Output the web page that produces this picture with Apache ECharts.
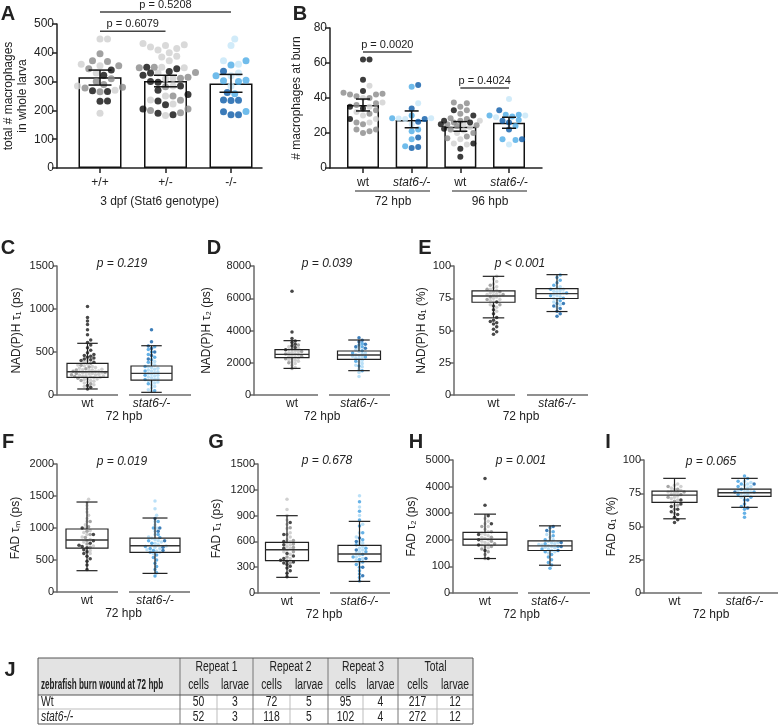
<!DOCTYPE html>
<html>
<head>
<meta charset="utf-8">
<script src="https://cdn.jsdelivr.net/npm/echarts@6/dist/echarts.min.js"></script>
<style>
  html, body { margin: 0; padding: 0; background: #fff; }
  #main { width: 780px; height: 725px; }
</style>
</head>
<body>
<div id="main"></div>
<script>
// ---- A: total macrophages per larva (3 dpf) ----
const aCats = ['+/+', '+/-', '-/-'];
const aMean = [315, 302, 293];
const aCiLow = [288, 282, 263];
const aCiHigh = [340, 322, 325];
const aLight = [
  [448, 448, 360, 355, 330, 285, 270, 190],
  [432, 428, 425, 420, 415, 410, 400, 388, 385, 372, 350, 348, 330, 312, 310, 285, 250, 236, 222, 182],
  [448, 425, 372, 360, 330, 320, 285]
];
const aMid = [
  [397, 372, 370, 355, 345, 310, 300, 290, 280, 278, 265],
  [350, 348, 332, 315, 312, 282, 250, 235, 205, 200, 192],
  [372, 358, 320, 305, 303, 300, 258, 196]
];
const aDark = [
  [340, 322, 268, 266, 233, 232],
  [350, 345, 335, 330, 322, 300, 298, 285, 270, 255, 233, 220, 205, 190, 185],
  [336, 262, 236, 235, 234, 195, 185, 185]
];

// ---- B: macrophages at burn ----
const bCats = ['wt', 'stat6-/-', 'wt', 'stat6-/-'];
const bMean = [36, 27.4, 23.6, 25.9];
const bCiLow = [32.6, 23, 21, 22.7];
const bCiHigh = [39.4, 32.6, 26.5, 29];
const bLight = [
  [47, 40, 37.5, 35, 32, 30, 28, 26],
  [37, 28.5, 28, 28.3, 25],
  [27, 25, 23.5, 21.5, 20, 16.5, 14, 13.5],
  [39.5, 30, 29, 13.5]
];
const bMid = [
  [43, 42.5, 42, 42, 41, 40, 37, 36, 33, 31, 26, 25, 22, 22, 21, 20],
  [46.5, 30, 28.5, 22, 21, 16.5, 12.5],
  [37.5, 37, 35, 33, 31, 28.5, 28, 27, 26, 25, 24.5, 24, 22, 20, 18, 17],
  [30.5, 30.5, 30, 29.5, 27.5, 24, 16.5, 16]
];
const bDark = [
  [62, 62, 50.5, 44, 35, 34, 28],
  [47.5, 34, 28, 26.5, 17.5, 12, 11.5],
  [33, 30, 27, 26, 25, 22.5, 14, 11, 6.5],
  [33, 27, 26, 22, 16.5]
];

// ---- C..I: FLIM box plots, wt vs stat6-/- (72 hpb) ----
const boxCats = ['wt', 'stat6-/-'];
// [whisker low, Q1, median, Q3, whisker high]
const cBox = [[70, 206, 271, 368, 601], [31, 174, 252, 337, 573]];
const cLight = [
  [100, 120, 140, 150, 160, 170, 180, 185, 190, 200, 205, 210, 215, 220, 225, 230, 235, 240, 245, 250, 255, 260, 265, 270, 275, 280, 285, 290, 295, 300, 310, 320, 330, 340, 350, 360, 380, 400],
  [40, 60, 80, 100, 120, 140, 150, 160, 170, 180, 190, 200, 210, 220, 230, 240, 250, 260, 270, 280, 290, 300, 310, 320, 330, 350, 370, 390]
];
const cMid = [
  [130, 170, 195, 215, 235, 250, 262, 275, 290, 305, 325, 345, 370],
  [50, 130, 180, 230, 280, 330, 380, 410, 440, 470, 500, 530, 560]
];
const cDark = [
  [70, 90, 110, 380, 400, 410, 420, 430, 440, 450, 460, 470, 490, 520, 550, 580, 610, 640, 700, 760, 820, 860, 900, 1030],
  [420, 460, 500, 540, 570, 620, 760]
];

const dBox = [[1650, 2315, 2520, 2810, 3370], [1510, 2210, 2480, 2730, 3410]];
const dLight = [
  [1700, 1850, 1950, 2050, 2100, 2150, 2200, 2250, 2300, 2350, 2400, 2450, 2500, 2550, 2600, 2650, 2700, 2750, 2800, 2900, 3000],
  [1150, 1400, 1600, 1750, 1850, 1950, 2050, 2150, 2250, 2300, 2350, 2400, 2450, 2500, 2550, 2600, 2700, 2800, 2900]
];
const dMid = [
  [1650, 2000, 2250, 2400, 2550, 2700, 2850, 3100],
  [1500, 1800, 2100, 2350, 2600, 2750, 3000, 3100, 3200]
];
const dDark = [
  [2800, 2950, 3050, 3150, 3250, 3350, 3500, 3900, 6430],
  [2900, 3000, 3150, 3300, 3400, 3550]
];

const eBox = [[59.8, 71.9, 76.8, 80.7, 92], [64.7, 74.8, 78.6, 82.5, 93.3]];
const eLight = [
  [65, 68, 70, 72, 73, 74, 75, 76, 77, 77.5, 78, 78.5, 79, 80, 81, 82, 83, 84, 86, 88, 90, 92],
  [68, 70, 72, 74, 75, 76, 77, 78, 78.5, 79, 80, 80.5, 81, 82, 83, 84]
];
const eMid = [
  [70, 74, 76, 78, 80, 82, 85],
  [71, 73, 75, 77, 79, 82, 85, 87, 89, 91, 93]
];
const eDark = [
  [47, 49, 51, 53, 55, 56, 57, 58, 60, 63, 66, 69, 72],
  [61, 63, 65, 67, 69, 71]
];

const fBox = [[333, 687, 812, 984, 1406], [291, 619, 723, 843, 1156]];
const fLight = [
  [600, 650, 720, 780, 820, 860, 900, 930, 960, 1000, 1050, 1100, 1150, 1200, 1250, 1300, 1350, 1400, 1450],
  [600, 620, 640, 660, 680, 700, 720, 740, 760, 780, 800, 820, 840, 860, 900, 950, 1000, 1050, 1100, 1200, 1300, 1420]
];
const fMid = [
  [700, 750, 800, 850, 900, 950, 1020, 1100],
  [250, 300, 350, 400, 450, 500, 540, 580, 620, 650, 680, 710, 760, 800, 850, 900, 1000, 1100]
];
const fDark = [
  [350, 420, 480, 520, 560, 600, 630, 660, 690, 710, 730, 760, 800, 900, 1000],
  [650, 700, 800, 950, 1000, 1150]
];

const gBox = [[182, 376, 503, 589, 899], [135, 364, 453, 553, 833]];
const gLight = [
  [400, 450, 480, 500, 520, 540, 560, 580, 600, 620, 650, 700, 750, 800, 850, 900, 970, 1090],
  [350, 380, 400, 420, 440, 460, 480, 500, 520, 540, 560, 580, 600, 650, 700, 800, 900, 1000, 1130]
];
const gMid = [
  [350, 420, 480, 530, 570, 610, 680, 760],
  [140, 180, 220, 260, 300, 330, 360, 390, 420, 450, 480, 520, 560, 620, 700, 780, 850, 950, 1060]
];
const gDark = [
  [190, 230, 260, 290, 310, 330, 350, 360, 370, 380, 400, 430, 460, 520, 560, 600, 680, 820],
  [200, 300, 400, 500, 600, 640]
];

const hBox = [[1296, 1797, 2023, 2276, 2965], [1044, 1597, 1771, 1960, 2525]];
const hLight = [
  [1700, 1750, 1800, 1850, 1900, 1950, 2000, 2050, 2100, 2150, 2200, 2250, 2300, 2400, 2500, 2600, 2700, 2800],
  [1500, 1550, 1600, 1650, 1700, 1720, 1750, 1780, 1800, 1820, 1850, 1880, 1900, 1950, 2000, 2100, 2200, 2300]
];
const hMid = [
  [1300, 1450, 1550, 1650, 1750, 1850, 1950, 2100, 2300, 2500],
  [930, 1050, 1150, 1250, 1350, 1450, 1550, 1650, 1750, 1850, 2000, 2150, 2300, 2450]
];
const hDark = [
  [1300, 1600, 1800, 2000, 2200, 2600, 2900, 3300, 4300],
  [1600, 1750, 1900, 2350, 2500]
];
const hTickLabels = ['0', '100', '2000', '3000', '4000', '5000']; // as printed in the figure

const iBox = [[55.8, 68.1, 73.6, 76.6, 86.2], [64.4, 72.6, 75.4, 78.1, 86.2]];
const iLight = [
  [66, 68, 70, 71, 72, 73, 74, 75, 75.5, 76, 76.5, 77, 78, 79, 80, 81, 82],
  [72, 73, 74, 75, 75.5, 76, 76.5, 77, 78, 79, 80, 81, 82, 83, 84]
];
const iMid = [
  [60, 63, 66, 69, 72, 74, 76, 78, 80],
  [57, 60, 63, 65, 67, 70, 72, 74, 76, 78, 80, 82, 84, 86, 88]
];
const iDark = [
  [53, 55, 57, 59, 61, 63, 65, 67, 70],
  [64, 70, 76, 82]
];

// ---- J: table ----
const jTitle = 'zebrafish burn wound at 72 hpb';
const jGroups = ['Repeat 1', 'Repeat 2', 'Repeat 3', 'Total'];
const jSub = ['cells', 'larvae'];
const jRowNames = ['Wt', 'stat6-/-'];
const jWt = [50, 3, 72, 5, 95, 4, 217, 12];
const jStat6 = [52, 3, 118, 5, 102, 4, 272, 12];

// ---------------------------------------------------------------
const FONT = '"Liberation Sans", Arial, Helvetica, sans-serif';
const INK = '#222';
const WT_AB = ['#cfcfcf', '#8a8a8a', '#0d0d0d'];
const KO_AB = ['#c6e6f8', '#4cabe6', '#0a5aa8'];
const WT_BOX = ['#c4c4c4', '#8f8f8f', '#1a1a1a'];
const KO_BOX = ['#a9d8f5', '#3f9ee0', '#0d5ea8'];

const grid = [], xAxis = [], yAxis = [], series = [];

function addPanel(p) {
  const gi = grid.length;
  const xMin = -(p.c0 - p.left) / p.step;
  const xMax = xMin + p.width / p.step;
  const idx = p.cats.map((c, i) => i);
  grid.push({ left: p.left, top: p.top, width: p.width, height: p.height });
  xAxis.push({
    type: 'value', gridIndex: gi, min: xMin, max: xMax,
    axisLine: { show: !!p.xLine, onZero: false, lineStyle: { color: p.axisColor, width: 1.5 } },
    axisTick: { show: !!p.xLine, customValues: idx, length: 5, lineStyle: { color: p.axisColor, width: 1.5 } },
    axisLabel: {
      customValues: idx, margin: p.labelMargin, fontSize: 12, color: INK, fontFamily: FONT,
      formatter: v => {
        const c = p.cats[Math.round(v)] || '';
        return c.indexOf('stat6') === 0 ? '{i|' + c + '}' : c;
      },
      rich: { i: { fontStyle: 'italic', fontSize: 12, color: INK, fontFamily: FONT } }
    },
    splitLine: { show: false },
    name: p.xName || '', nameLocation: 'middle', nameGap: p.xNameGap || 14,
    nameTextStyle: { fontSize: 12, color: INK, fontFamily: FONT }
  });
  yAxis.push({
    type: 'value', gridIndex: gi, min: 0, max: p.yMax, interval: p.yInt,
    axisLine: { show: true, onZero: false, lineStyle: { color: p.axisColor, width: 1.5 } },
    axisTick: { show: true, length: p.tickLen, lineStyle: { color: p.axisColor, width: 1.5 } },
    axisLabel: {
      fontSize: p.yFont, color: INK, fontFamily: FONT, margin: 3,
      formatter: p.yFormatter || (v => String(v))
    },
    splitLine: { show: false },
    name: p.yName, nameLocation: 'middle', nameGap: p.yNameGap,
    nameTextStyle: { fontSize: 12, color: INK, fontFamily: FONT, lineHeight: 14 }
  });
  return { gi, step: p.step, pxu: p.height / p.yMax };
}

// beeswarm: place sorted points as close to the centre as possible without overlap
function swarm(ys, d, maxHalf) {
  const order = ys.map((y, i) => i).sort((a, b) => ys[a] - ys[b]);
  const cands = [0];
  for (let k = 1; k * d / 2 <= maxHalf; k++) cands.push(k * d / 2, -k * d / 2);
  const placed = [], out = new Array(ys.length);
  order.forEach(i => {
    const y = ys[i];
    const near = placed.filter(q => Math.abs(q.y - y) < d);
    let best = 0, bestScore = -1;
    for (const c of cands) {
      let m = Infinity;
      near.forEach(q => { m = Math.min(m, Math.hypot(q.x - c, q.y - y)); });
      if (m >= d) { best = c; break; }
      if (m > bestScore) { bestScore = m; best = c; }
    }
    placed.push({ x: best, y: y });
    out[i] = best;
  });
  return out;
}

function addDots(ax, shades, palettes, size, gap, halves) {
  const perShade = shades.map(() => []);
  for (let g = 0; g < shades[0].length; g++) {
    const pts = [];
    shades.forEach((arr, s) => arr[g].forEach(v => pts.push({ v, s })));
    const offs = swarm(pts.map(q => q.v * ax.pxu), gap, halves[g]);
    pts.forEach((q, k) => perShade[q.s].push({
      value: [g + offs[k] / ax.step, q.v],
      itemStyle: { color: palettes[g][q.s] }
    }));
  }
  perShade.forEach(data => series.push({
    type: 'scatter', xAxisIndex: ax.gi, yAxisIndex: ax.gi, data,
    symbol: 'circle', symbolSize: size, silent: true, z: 3
  }));
}

function addBarsWithCI(ax, mean, lo, hi, barW, capW) {
  series.push({
    type: 'bar', xAxisIndex: ax.gi, yAxisIndex: ax.gi, barWidth: barW, silent: true, z: 2,
    data: mean.map((v, i) => [i, v]),
    itemStyle: { color: '#fff', borderColor: '#111', borderWidth: 1.5 }
  });
  series.push({
    type: 'custom', xAxisIndex: ax.gi, yAxisIndex: ax.gi, silent: true, z: 5,
    data: mean.map((v, i) => [i, lo[i], hi[i]]),
    encode: { x: 0, y: [1, 2] },
    renderItem: (params, api) => {
      const pl = api.coord([api.value(0), api.value(1)]);
      const ph = api.coord([api.value(0), api.value(2)]);
      const st = { stroke: '#111', lineWidth: 1.5 };
      const h = capW / 2;
      return { type: 'group', children: [
        { type: 'line', shape: { x1: pl[0], y1: pl[1], x2: ph[0], y2: ph[1] }, style: st },
        { type: 'line', shape: { x1: pl[0] - h, y1: pl[1], x2: pl[0] + h, y2: pl[1] }, style: st },
        { type: 'line', shape: { x1: ph[0] - h, y1: ph[1], x2: ph[0] + h, y2: ph[1] }, style: st }
      ] };
    }
  });
}

function addBoxes(ax, box, widths) {
  series.push({
    type: 'custom', xAxisIndex: ax.gi, yAxisIndex: ax.gi, silent: true, z: 5,
    data: box.map((b, i) => [i].concat(b)),
    encode: { x: 0, y: [1, 2, 3, 4, 5] },
    renderItem: (params, api) => {
      const x = api.value(0);
      const p = [1, 2, 3, 4, 5].map(k => api.coord([x, api.value(k)]));
      const w = widths[params.dataIndex];
      const cx = p[0][0], hw = w / 2, cw = w / 4;
      const st = { stroke: '#222', lineWidth: 1.2 };
      return { type: 'group', children: [
        { type: 'line', shape: { x1: cx, y1: p[4][1], x2: cx, y2: p[3][1] }, style: st },
        { type: 'line', shape: { x1: cx, y1: p[1][1], x2: cx, y2: p[0][1] }, style: st },
        { type: 'line', shape: { x1: cx - cw, y1: p[4][1], x2: cx + cw, y2: p[4][1] }, style: st },
        { type: 'line', shape: { x1: cx - cw, y1: p[0][1], x2: cx + cw, y2: p[0][1] }, style: st },
        { type: 'rect', shape: { x: cx - hw, y: p[3][1], width: w, height: p[1][1] - p[3][1] },
          style: { stroke: '#222', lineWidth: 1.2, fill: 'rgba(0,0,0,0)' } },
        { type: 'line', shape: { x1: cx - hw, y1: p[2][1], x2: cx + hw, y2: p[2][1] }, style: { stroke: '#333', lineWidth: 1.4 } }
      ] };
    }
  });
}

// ---- panels A and B ----
const axA = addPanel({
  left: 57, top: 24, width: 205, height: 144, c0: 100, step: 65.5,
  yMax: 500, yInt: 100, cats: aCats, xLine: true, axisColor: '#222', labelMargin: 9,
  xName: '3 dpf (Stat6 genotype)', xNameGap: 28,
  yName: 'total # macrophages\nin whole larva', yNameGap: 24, tickLen: 5, yFont: 12
});
addBarsWithCI(axA, aMean, aCiLow, aCiHigh, 43, 23);
addDots(axA, [aLight, aMid, aDark], [WT_AB, WT_AB, KO_AB], 7, 7.5, [30, 30, 30]);

const axB = addPanel({
  left: 330, top: 28, width: 212, height: 140, c0: 363, step: 48.67,
  yMax: 80, yInt: 20, cats: bCats, xLine: true, axisColor: '#222', labelMargin: 9,
  yName: '# macrophages at burn', yNameGap: 26, tickLen: 5, yFont: 12
});
addBarsWithCI(axB, bMean, bCiLow, bCiHigh, 32, 14);
addDots(axB, [bLight, bMid, bDark], [WT_AB, KO_AB, WT_AB, KO_AB], 6, 6.5, [22, 22, 22, 22]);

// ---- box panels ----
const boxPanels = [
  { left: 57, top: 266, width: 134, height: 129, c0: 87.5, step: 64, yMax: 1500, yInt: 500,
    yName: 'NAD(P)H τ₁ (ps)', yNameGap: 33, box: cBox, dots: [cLight, cMid, cDark], bw: [41, 41],
    segs: [[57, 118], [129, 191]], p: [122, 264, 'p = 0.219'] },
  { left: 254, top: 266, width: 136, height: 129, c0: 292, step: 67, yMax: 8000, yInt: 2000,
    yName: 'NAD(P)H τ₂ (ps)', yNameGap: 40, box: dBox, dots: [dLight, dMid, dDark], bw: [34, 43],
    segs: [[254, 318], [329, 390]], p: [327, 264, 'p = 0.039'] },
  { left: 454, top: 266, width: 134, height: 129, c0: 493.5, step: 63.5, yMax: 100, yInt: 25,
    yName: 'NAD(P)H α₁ (%)', yNameGap: 21, box: eBox, dots: [eLight, eMid, eDark], bw: [43, 42],
    segs: [[454, 515], [527, 588]], p: [520, 264, 'p < 0.001'] },
  { left: 57, top: 464, width: 133, height: 128, c0: 87, step: 68, yMax: 2000, yInt: 500,
    yName: 'FAD τₘ (ps)', yNameGap: 34, box: fBox, dots: [fLight, fMid, fDark], bw: [42, 50],
    segs: [[57, 118], [129, 190]], p: [122, 462, 'p = 0.019'] },
  { left: 258, top: 464, width: 132, height: 129, c0: 287, step: 72.5, yMax: 1500, yInt: 300,
    yName: 'FAD τ₁ (ps)', yNameGap: 34, box: gBox, dots: [gLight, gMid, gDark], bw: [43, 43],
    segs: [[258, 320], [330, 390]], p: [327, 461, 'p = 0.678'] },
  { left: 453, top: 460, width: 137, height: 133, c0: 485, step: 65, yMax: 5000, yInt: 1000,
    yName: 'FAD τ₂ (ps)', yNameGap: 34, box: hBox, dots: [hLight, hMid, hDark], bw: [44, 44],
    segs: [[453, 518], [528, 590]], p: [521, 461, 'p = 0.001'],
    yFormatter: v => hTickLabels[Math.round(v / 1000)] },
  { left: 644, top: 460, width: 134, height: 133, c0: 674.5, step: 70, yMax: 100, yInt: 25,
    yName: 'FAD α₁ (%)', yNameGap: 21, box: iBox, dots: [iLight, iMid, iDark], bw: [45, 53],
    segs: [[644, 702], [718, 778]], p: [711, 462, 'p = 0.065'] }
];

const graphic = [];
const txt = (x, y, text, font, align, sx) => ({
  type: 'text', x, y, silent: true, scaleX: sx || 1,
  style: { text, font, fill: INK, align: align || 'center', verticalAlign: 'middle' }
});
const line = (x1, y1, x2, y2, color, w) => ({
  type: 'line', silent: true, shape: { x1, y1, x2, y2 },
  style: { stroke: color, lineWidth: w || 1 }
});

boxPanels.forEach(bp => {
  const ax = addPanel(Object.assign({
    cats: boxCats, xLine: false, axisColor: '#6a6a6a', labelMargin: 3,
    xName: '72 hpb', xNameGap: 13, tickLen: 4, yFont: 11
  }, bp));
  addDots(ax, bp.dots, [WT_BOX, KO_BOX], 3.5, 3.2, bp.bw.map(w => w / 2 - 2));
  addBoxes(ax, bp.box, bp.bw);
  const yb = bp.top + bp.height;
  bp.segs.forEach(s => graphic.push(line(s[0], yb, s[1], yb, '#6a6a6a', 1.5)));
  graphic.push(txt(bp.p[0], bp.p[1], bp.p[2], 'italic 12px ' + FONT));
});

// panel letters
[['A', 8, 14], ['B', 300, 14], ['C', 8, 248], ['D', 214, 248], ['E', 425, 248],
 ['F', 8, 442], ['G', 216, 442], ['H', 416, 442], ['I', 608, 442], ['J', 10, 670]]
  .forEach(l => graphic.push(txt(l[1], l[2], l[0], 'bold 20px ' + FONT)));

// B group underlines
graphic.push(line(355, 191, 430, 191, '#222', 1.2), line(452, 191, 527, 191, '#222', 1.2));
graphic.push(txt(393, 202, '72 hpb', '12px ' + FONT), txt(490, 202, '96 hpb', '12px ' + FONT));

// J table
const TF = '14px ' + FONT, SX = 0.74;
const tb = { x0: 38, x1: 473, top: 658, head: 695, mid: 709, bottom: 724,
  cols: [180, 253, 328, 398], subs: [217, 290, 363, 437] };
graphic.push({ type: 'rect', silent: true, shape: { x: tb.x0, y: tb.top, width: tb.x1 - tb.x0, height: tb.head - tb.top },
  style: { fill: '#e3e3e3' } });
graphic.push(line(tb.x0, tb.mid, tb.x1, tb.mid, '#bdbdbd', 1));
tb.subs.forEach(x => graphic.push(line(x, tb.head, x, tb.bottom, '#bdbdbd', 1)));
tb.cols.forEach(x => graphic.push(line(x, tb.top, x, tb.bottom, '#777', 1)));
graphic.push(line(tb.x0, tb.head, tb.x1, tb.head, '#555', 1));
graphic.push({ type: 'rect', silent: true, shape: { x: tb.x0, y: tb.top, width: tb.x1 - tb.x0, height: tb.bottom - tb.top },
  style: { fill: 'rgba(0,0,0,0)', stroke: '#555', lineWidth: 1 } });
const edges = tb.cols.concat([tb.x1]);
jGroups.forEach((g, k) => {
  const l = edges[k], r = edges[k + 1], s = tb.subs[k];
  graphic.push(txt((l + r) / 2, 667, g, TF, 'center', SX));
  graphic.push(txt((l + s) / 2, 685, jSub[0], TF, 'center', SX));
  graphic.push(txt((s + r) / 2, 685, jSub[1], TF, 'center', SX));
  [jWt, jStat6].forEach((row, ri) => {
    const y = ri === 0 ? 702 : 717;
    graphic.push(txt((l + s) / 2, y, String(row[2 * k]), TF, 'center', SX));
    graphic.push(txt((s + r) / 2, y, String(row[2 * k + 1]), TF, 'center', SX));
  });
});
graphic.push(txt(41, 685, jTitle, 'bold 14px ' + FONT, 'left', 0.58));
graphic.push(txt(41, 702, jRowNames[0], TF, 'left', SX));
graphic.push(txt(41, 717, jRowNames[1], 'italic ' + TF, 'left', SX));

const myChart = echarts.init(document.getElementById('main'));
myChart.setOption({
  animation: false,
  backgroundColor: '#fff',
  textStyle: { fontFamily: FONT },
  grid, xAxis, yAxis, series
});

// significance brackets for A and B, placed through the axes
const brackets = [
  { ax: axA, x0: 0, x1: 1, y: 475, text: 'p = 0.6079' },
  { ax: axA, x0: 0, x1: 2, y: 542, text: 'p = 0.5208' },
  { ax: axB, x0: 0, x1: 1, y: 66.3, text: 'p = 0.0020' },
  { ax: axB, x0: 2, x1: 3, y: 45.7, text: 'p = 0.4024' }
];
brackets.forEach(b => {
  const p0 = myChart.convertToPixel({ gridIndex: b.ax.gi }, [b.x0, b.y]);
  const p1 = myChart.convertToPixel({ gridIndex: b.ax.gi }, [b.x1, b.y]);
  graphic.push(line(p0[0], p0[1], p1[0], p1[1], '#444', 1.5));
  graphic.push(txt((p0[0] + p1[0]) / 2, p0[1] - 7, b.text, '11px ' + FONT));
});

myChart.setOption({ graphic });
</script>
</body>
</html>
